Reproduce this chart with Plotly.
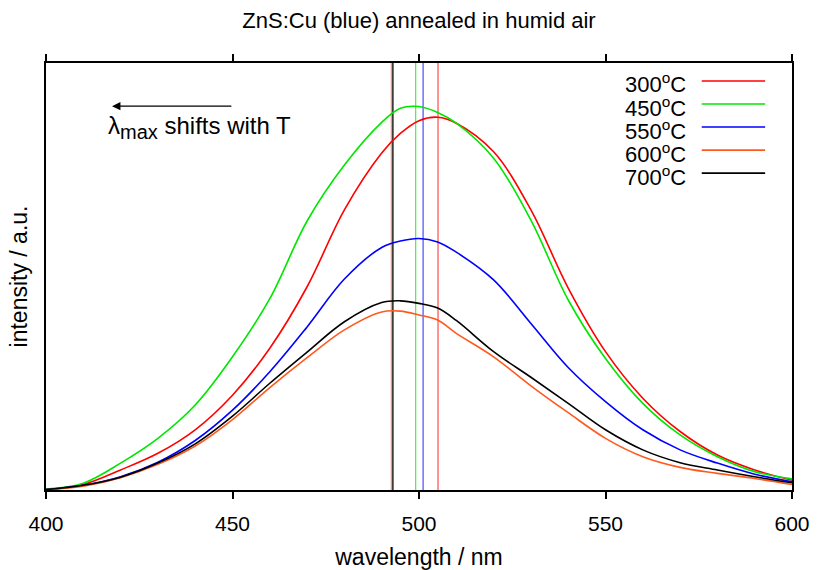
import plotly.graph_objects as go

wavelength = [400, 410, 420, 430, 440, 450, 460, 470, 480, 490, 495, 500, 505,
              510, 520, 530, 540, 550, 560, 570, 580, 590, 600]

i_300 = [0.001, 0.013, 0.047, 0.086, 0.141, 0.222, 0.332, 0.476, 0.656, 0.789, 0.835,
         0.865, 0.873, 0.859, 0.792, 0.656, 0.473, 0.324, 0.215, 0.137, 0.082, 0.047, 0.023]
i_450 = [0.002, 0.016, 0.063, 0.121, 0.199, 0.312, 0.448, 0.630, 0.761, 0.861, 0.894,
         0.898, 0.884, 0.859, 0.777, 0.632, 0.445, 0.308, 0.203, 0.129, 0.078, 0.043, 0.026]
i_550 = [0.001, 0.011, 0.031, 0.065, 0.116, 0.187, 0.277, 0.382, 0.494, 0.568, 0.583,
         0.589, 0.581, 0.557, 0.492, 0.390, 0.287, 0.207, 0.141, 0.094, 0.063, 0.037, 0.019]
i_600 = [0.0005, 0.009, 0.029, 0.060, 0.103, 0.165, 0.240, 0.310, 0.375, 0.417, 0.419,
         0.410, 0.398, 0.367, 0.312, 0.244, 0.181, 0.121, 0.078, 0.053, 0.039, 0.027, 0.013]
i_700 = [0.001, 0.011, 0.030, 0.063, 0.108, 0.173, 0.250, 0.323, 0.394, 0.439, 0.443,
         0.437, 0.426, 0.397, 0.324, 0.264, 0.203, 0.141, 0.094, 0.064, 0.047, 0.031, 0.017]

labels = ["300<sup>o</sup>C", "450<sup>o</sup>C", "550<sup>o</sup>C", "600<sup>o</sup>C", "700<sup>o</sup>C"]
series = [i_300, i_450, i_550, i_600, i_700]
colors = ["#ff0000", "#00e600", "#0000ff", "#ff5a1e", "#000000"]
peak_wavelength = [505.1, 499.1, 501.1, 492.6, 493.0]
x_ticks = [400, 450, 500, 550, 600]

FONT = "Liberation Sans, Arial, Helvetica, sans-serif"

fig = go.Figure()

# vertical lines at lambda_max
for pk, c in zip(peak_wavelength, colors):
    fig.add_trace(go.Scatter(x=[pk, pk], y=[0, 1], mode="lines",
                             line=dict(color=c, width=1.3),
                             opacity=0.65 if c != "#000000" else 1.0,
                             showlegend=False, hoverinfo="skip"))

for ys, c, lab in zip(series, colors, labels):
    fig.add_trace(go.Scatter(x=wavelength, y=ys, mode="lines", name=lab,
                             line=dict(color=c, width=1.6, shape="spline", smoothing=1.0),
                             showlegend=False))

# custom legend: text then line sample
leg_y = [0.958, 0.904, 0.850, 0.796, 0.742]
for lab, c, ly in zip(labels, colors, leg_y):
    fig.add_shape(type="line", xref="paper", yref="paper", x0=0.879, x1=0.964,
                  y0=ly, y1=ly, line=dict(color=c, width=1.6))
    fig.add_annotation(xref="paper", yref="paper", x=0.861, y=ly - 0.006, text=lab,
                       showarrow=False, xanchor="right", yanchor="middle",
                       font=dict(family=FONT, size=22, color="black"))

# arrow + label
fig.add_annotation(x=417.7, y=0.899, ax=450.1, ay=0.899, axref="x", ayref="y",
                   xref="x", yref="y", text="", showarrow=True,
                   arrowhead=2, arrowsize=1.4, arrowwidth=1.2, arrowcolor="black")
fig.add_annotation(x=416.0, y=0.848, xref="x", yref="y",
                   text="λ<sub><span style=\"font-size:20px\">max</span></sub> shifts with T",
                   showarrow=False, xanchor="left", yanchor="middle",
                   font=dict(family=FONT, size=24, color="black"))

fig.update_layout(
    width=817, height=570,
    margin=dict(l=46, r=25, t=63, b=80),
    paper_bgcolor="white", plot_bgcolor="white",
    font=dict(family=FONT, size=21, color="black"),
    title=dict(text="ZnS:Cu (blue) annealed in humid air", x=0.5, xref="paper",
               y=0.965, yref="container", yanchor="middle",
               font=dict(family=FONT, size=22, color="black")),
)
fig.update_xaxes(range=[400, 600], tickvals=x_ticks, ticks="outside", ticklen=7,
                 tickwidth=1.5, tickcolor="black", showline=True, linecolor="black",
                 linewidth=2, mirror="ticks", showgrid=False, zeroline=False,
                 automargin=False, ticklabelstandoff=7,
                 title=dict(text="wavelength / nm", standoff=20,
                            font=dict(family=FONT, size=23)),
                 tickfont=dict(family=FONT, size=21))
fig.update_yaxes(range=[0, 1], showticklabels=False, ticks="", showline=True,
                 linecolor="black", linewidth=2, mirror=True, showgrid=False,
                 zeroline=False, automargin=False,
                 title=dict(text="intensity / a.u.", standoff=10,
                            font=dict(family=FONT, size=23)))

fig.write_html("out.html", config={"displayModeBar": False},
               post_script="document.body.style.margin='0';")
